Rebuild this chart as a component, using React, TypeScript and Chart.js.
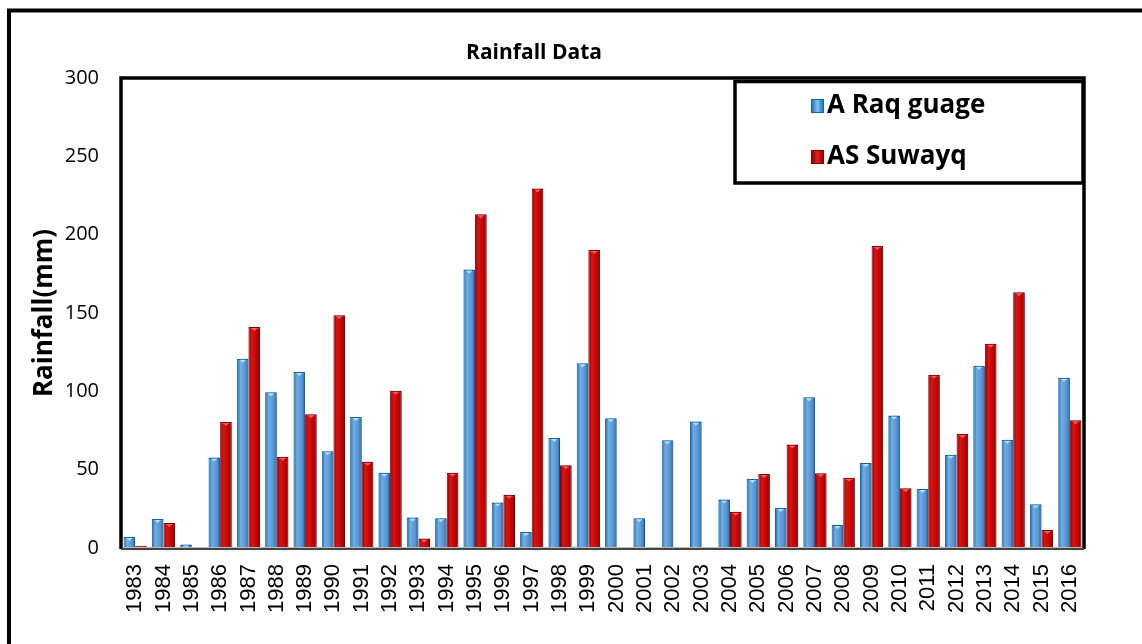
import React, { useEffect, useRef } from "react";
import { Chart, registerables } from "chart.js";

Chart.register(...registerables);

const years = [
  "1983", "1984", "1985", "1986", "1987", "1988", "1989", "1990", "1991", "1992",
  "1993", "1994", "1995", "1996", "1997", "1998", "1999", "2000", "2001", "2002",
  "2003", "2004", "2005", "2006", "2007", "2008", "2009", "2010", "2011", "2012",
  "2013", "2014", "2015", "2016",
];

const aRaqGauge = [
  7, 18.5, 2.3, 57.7, 120.8, 99.4, 112.3, 61.7, 83.6, 48,
  19.4, 19, 177.7, 29.1, 10.2, 70.2, 117.9, 82.8, 19, 68.7,
  80.8, 31, 44, 25.5, 96.2, 14.7, 54.3, 84.5, 37.7, 59.6,
  116.4, 69.1, 27.9, 108.7,
];

const asSuwayq = [
  1.5, 16, 0, 80.4, 141, 58.3, 85.3, 148.5, 55.1, 100.4,
  6, 48, 213, 34, 229.4, 52.8, 190.2, 0, 0, 0,
  0, 23.2, 47.2, 66, 47.7, 44.9, 192.8, 38.1, 110.6, 72.8,
  130.4, 163.2, 11.5, 81.5,
];

const yTicks = [0, 50, 100, 150, 200, 250, 300];

const seriesNames = ["A Raq guage", "AS Suwayq"];
const fills = ["#5592D0", "#C00000"];
const edges = ["#1565AE", "#8A0000"];
const lights = ["#72AEE3", "#D81414"];
const tips = ["#A8E4FF", "#FF5A5A"];

const CAT_PCT = 0.82;
const CAL = "'Open Sans', 'DejaVu Sans', sans-serif";

function barFill(di: number) {
  return (c: any) => {
    const chart = c.chart;
    const xs = chart.scales && chart.scales.x;
    if (!xs || !chart.chartArea || c.dataIndex === undefined) return fills[di];
    const cx = xs.getPixelForValue(c.dataIndex);
    const w = ((xs.width / years.length) * CAT_PCT) / 2;
    const x0 = di === 0 ? cx - w : cx;
    const g = chart.ctx.createLinearGradient(x0, 0, x0 + w, 0);
    g.addColorStop(0, edges[di]);
    g.addColorStop(0.3, lights[di]);
    g.addColorStop(0.75, fills[di]);
    g.addColorStop(1, edges[di]);
    return g;
  };
}

export default function App() {
  const ref = useRef<HTMLCanvasElement | null>(null);

  useEffect(() => {
    const canvas = ref.current;
    if (!canvas) return;

    const decor = {
      id: "decor",
      beforeDatasetsDraw(chart: any) {
        const ctx = chart.ctx;
        ctx.save();
        ctx.shadowColor = "rgba(0,0,0,0.28)";
        ctx.shadowBlur = 3;
        ctx.shadowOffsetX = 2;
        ctx.shadowOffsetY = 0;
      },
      afterDatasetsDraw(chart: any) {
        const ctx = chart.ctx;
        ctx.restore();
        chart.data.datasets.forEach((ds: any, di: number) => {
          const meta = chart.getDatasetMeta(di);
          meta.data.forEach((bar: any, i: number) => {
            if (ds.data[i] < 1) return;
            const w = bar.width;
            ctx.save();
            ctx.fillStyle = tips[di];
            ctx.beginPath();
            ctx.moveTo(bar.x - w * 0.28, bar.y + 1);
            ctx.lineTo(bar.x + w * 0.28, bar.y + 1);
            ctx.lineTo(bar.x, bar.y + 4);
            ctx.closePath();
            ctx.fill();
            ctx.restore();
          });
        });
        const a = chart.chartArea;
        ctx.save();
        ctx.strokeStyle = "#000";
        ctx.lineWidth = 3.5;
        ctx.beginPath();
        ctx.moveTo(a.left, a.bottom + 1);
        ctx.lineTo(a.left, a.top);
        ctx.lineTo(a.right, a.top);
        ctx.lineTo(a.right, a.bottom + 1);
        ctx.stroke();
        ctx.strokeStyle = "#444";
        ctx.lineWidth = 2;
        ctx.beginPath();
        ctx.moveTo(a.left, a.bottom + 1);
        ctx.lineTo(a.right, a.bottom + 1);
        ctx.stroke();
        ctx.strokeStyle = "#BBBBBB";
        ctx.lineWidth = 1;
        ctx.beginPath();
        ctx.moveTo(a.left + 2, a.bottom - 0.5);
        ctx.lineTo(a.right - 2, a.bottom - 0.5);
        ctx.stroke();

        ctx.strokeStyle = "#000";
        ctx.lineWidth = 4;
        ctx.strokeRect(9, 10.5, 1300, 800);

        ctx.fillStyle = "#000";
        ctx.font = "bold 21px " + CAL;
        ctx.textAlign = "center";
        ctx.textBaseline = "middle";
        ctx.fillText("Rainfall Data", 534, 53);

        ctx.fillStyle = "#fff";
        ctx.fillRect(735, 81, 348, 102);
        ctx.strokeStyle = "#000";
        ctx.lineWidth = 3.5;
        ctx.strokeRect(735, 81.5, 348, 101.5);
        const rows = [106, 157];
        rows.forEach((cy, k) => {
          const g = ctx.createLinearGradient(811, 0, 824, 0);
          g.addColorStop(0, edges[k]);
          g.addColorStop(0.5, k === 0 ? "#7FC4F0" : "#E02020");
          g.addColorStop(1, edges[k]);
          ctx.fillStyle = g;
          ctx.fillRect(811, cy - 7, 13, 14);
          ctx.strokeStyle = edges[k];
          ctx.lineWidth = 1;
          ctx.strokeRect(811.5, cy - 6.5, 12, 13);
          ctx.fillStyle = "#000";
          ctx.font = "bold 26px " + CAL;
          ctx.textAlign = "left";
          ctx.textBaseline = "middle";
          ctx.fillText(seriesNames[k], 827, cy);
        });
        ctx.restore();
      },
    };

    const chart = new Chart(canvas, {
      type: "bar",
      data: {
        labels: years,
        datasets: [
          {
            label: seriesNames[0],
            data: aRaqGauge,
            backgroundColor: barFill(0),
            borderColor: edges[0],
            borderWidth: { left: 1, right: 1, top: 1.5, bottom: 0 },
            borderSkipped: "bottom",
            categoryPercentage: CAT_PCT,
            barPercentage: 1,
          },
          {
            label: seriesNames[1],
            data: asSuwayq,
            backgroundColor: barFill(1),
            borderColor: edges[1],
            borderWidth: { left: 1, right: 1, top: 1.5, bottom: 0 },
            borderSkipped: "bottom",
            categoryPercentage: CAT_PCT,
            barPercentage: 1,
          },
        ],
      },
      options: {
        responsive: false,
        animation: false,
        devicePixelRatio: 1,
        layout: { padding: { left: 0, top: 78, right: 58, bottom: 0 } },
        plugins: {
          legend: { display: false },
          title: { display: false },
          tooltip: { enabled: false },
        },
        scales: {
          x: {
            grid: { display: false, drawTicks: false },
            border: { display: false },
            ticks: {
              minRotation: 90,
              maxRotation: 90,
              autoSkip: false,
              padding: 16,
              color: "#000",
              font: { family: "'Liberation Sans', Arial, sans-serif", size: 22 },
            },
            afterFit(s: any) {
              s.height = 96;
            },
          },
          y: {
            min: 0,
            max: 300,
            afterBuildTicks(s: any) {
              s.ticks = yTicks.map((v) => ({ value: v }));
            },
            grid: { display: false, drawTicks: false },
            border: { display: false },
            ticks: {
              padding: 22,
              color: "#000",
              font: { family: CAL, size: 20 },
            },
            title: {
              display: true,
              text: "Rainfall(mm)",
              color: "#000",
              font: { family: CAL, size: 26, weight: "bold" },
              padding: { top: 29, bottom: 0 },
            },
            afterFit(s: any) {
              s.width = 121;
            },
          },
        },
      },
      plugins: [decor],
    });

    return () => chart.destroy();
  }, []);

  return (
    <div style={{ position: "fixed", left: 0, top: 0, width: 1142, height: 644, background: "#fff" }}>
      <canvas ref={ref} width={1142} height={644} style={{ display: "block" }} />
    </div>
  );
}
